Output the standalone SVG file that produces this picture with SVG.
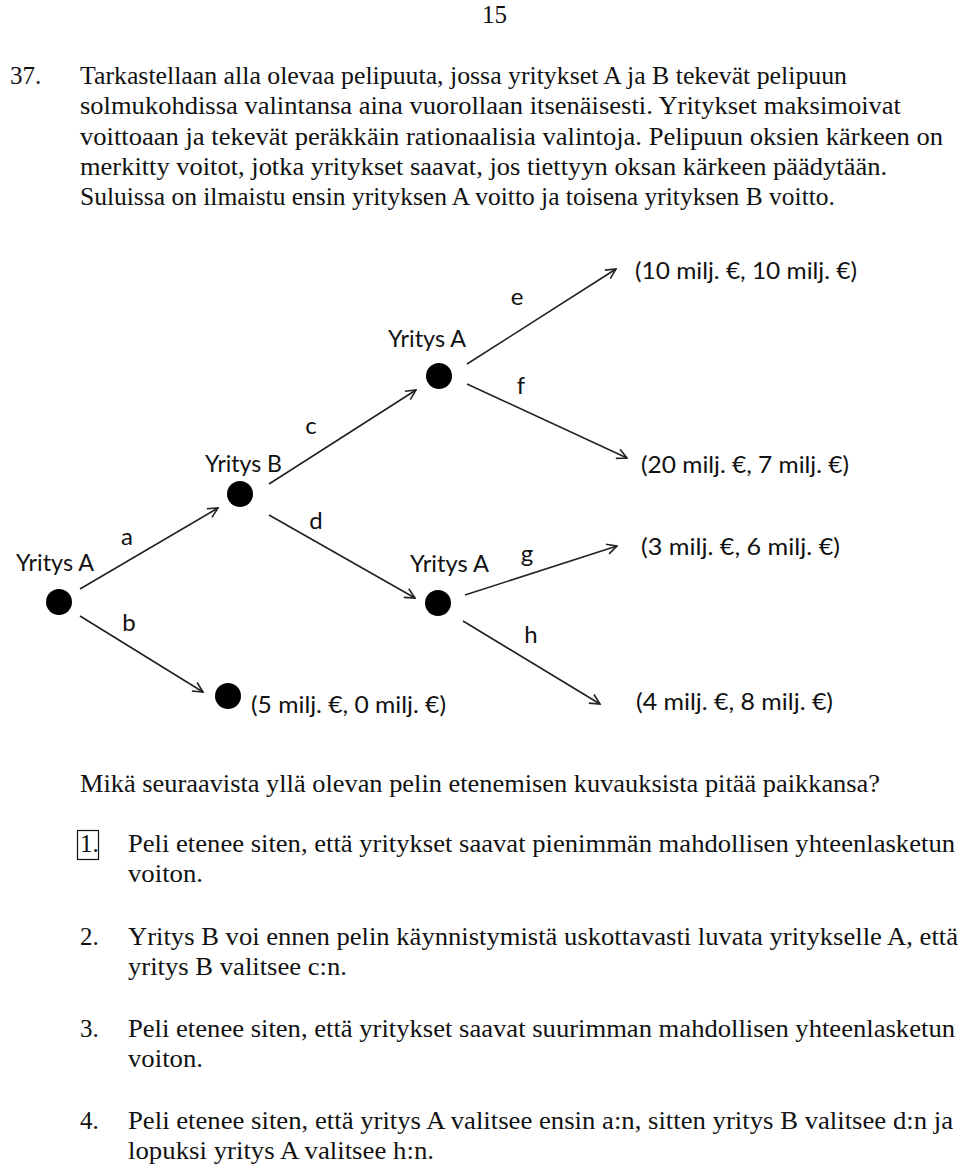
<svg xmlns="http://www.w3.org/2000/svg" width="960" height="1169" viewBox="0 0 960 1169">
<style>
.t{font-family:"Liberation Serif","Times New Roman",serif;font-size:25px;fill:#111}
.s{font-family:Lato,"Open Sans","Liberation Sans",sans-serif;font-size:24px;fill:#111}
.e{stroke:#222;stroke-width:1.6;fill:none}
.n{fill:#000}
</style>
<defs>
<marker id="ah" viewBox="0 0 12 12" refX="11" refY="6" markerWidth="12" markerHeight="12" markerUnits="userSpaceOnUse" orient="auto">
<path d="M1,1 L11,6 L1,11" fill="none" stroke="#222" stroke-width="1.6"/>
</marker>
</defs>
<rect width="960" height="1169" fill="#fff"/>
<g id="header">
<text class="t" x="482" y="23">15</text>
<text class="t" x="10" y="84">37.</text>
<text class="t" x="80" y="84" textLength="767" lengthAdjust="spacingAndGlyphs">Tarkastellaan alla olevaa pelipuuta, jossa yritykset A ja B tekevät pelipuun</text>
<text class="t" x="80" y="114" textLength="821" lengthAdjust="spacingAndGlyphs">solmukohdissa valintansa aina vuorollaan itsenäisesti. Yritykset maksimoivat</text>
<text class="t" x="80" y="145" textLength="863" lengthAdjust="spacingAndGlyphs">voittoaan ja tekevät peräkkäin rationaalisia valintoja. Pelipuun oksien kärkeen on</text>
<text class="t" x="80" y="175" textLength="807" lengthAdjust="spacingAndGlyphs">merkitty voitot, jotka yritykset saavat, jos tiettyyn oksan kärkeen päädytään.</text>
<text class="t" x="80" y="205" textLength="755" lengthAdjust="spacingAndGlyphs">Suluissa on ilmaistu ensin yrityksen A voitto ja toisena yrityksen B voitto.</text>
</g>
<g id="connectors">
<line class="e" x1="80" y1="589" x2="218" y2="508" marker-end="url(#ah)"/>
<line class="e" x1="80" y1="616" x2="203" y2="692" marker-end="url(#ah)"/>
<line class="e" x1="269" y1="484" x2="416" y2="390" marker-end="url(#ah)"/>
<line class="e" x1="269" y1="515" x2="415" y2="598" marker-end="url(#ah)"/>
<line class="e" x1="467" y1="364" x2="616" y2="269" marker-end="url(#ah)"/>
<line class="e" x1="467" y1="384" x2="627" y2="458" marker-end="url(#ah)"/>
<line class="e" x1="465" y1="595" x2="617" y2="546" marker-end="url(#ah)"/>
<line class="e" x1="463" y1="621" x2="600" y2="704" marker-end="url(#ah)"/>
<text class="s" x="127" y="545" text-anchor="middle">a</text>
<text class="s" x="129" y="631" text-anchor="middle">b</text>
<text class="s" x="311" y="434" text-anchor="middle">c</text>
<text class="s" x="316" y="529" text-anchor="middle">d</text>
<text class="s" x="517" y="305" text-anchor="middle">e</text>
<text class="s" x="521" y="394" text-anchor="middle">f</text>
<text class="s" x="527" y="562" text-anchor="middle">g</text>
<text class="s" x="531" y="643" text-anchor="middle">h</text>
</g>
<g id="node-root">
<circle class="n" cx="59" cy="602" r="13"/>
<text class="s" x="16" y="571" textLength="78" lengthAdjust="spacingAndGlyphs">Yritys A</text>
</g>
<g id="node-B">
<circle class="n" cx="240" cy="494" r="13"/>
<text class="s" x="205" y="472" textLength="77" lengthAdjust="spacingAndGlyphs">Yritys B</text>
</g>
<g id="node-A-top">
<circle class="n" cx="439" cy="376" r="13"/>
<text class="s" x="388" y="347" textLength="78" lengthAdjust="spacingAndGlyphs">Yritys A</text>
</g>
<g id="node-A-low">
<circle class="n" cx="438" cy="603" r="13"/>
<text class="s" x="410" y="572" textLength="79" lengthAdjust="spacingAndGlyphs">Yritys A</text>
</g>
<g id="node-b-end">
<circle class="n" cx="228" cy="696" r="13"/>
<text class="s" x="251" y="713" textLength="195" lengthAdjust="spacingAndGlyphs">(5 milj. €, 0 milj. €)</text>
</g>
<g id="payoff-e"><text class="s" x="635" y="279" textLength="222" lengthAdjust="spacingAndGlyphs">(10 milj. €, 10 milj. €)</text></g>
<g id="payoff-f"><text class="s" x="641" y="473" textLength="208" lengthAdjust="spacingAndGlyphs">(20 milj. €, 7 milj. €)</text></g>
<g id="payoff-g"><text class="s" x="641" y="555" textLength="199" lengthAdjust="spacingAndGlyphs">(3 milj. €, 6 milj. €)</text></g>
<g id="payoff-h"><text class="s" x="636" y="710" textLength="197" lengthAdjust="spacingAndGlyphs">(4 milj. €, 8 milj. €)</text></g>
<g id="question">
<text class="t" x="80" y="792" textLength="800" lengthAdjust="spacingAndGlyphs">Mikä seuraavista yllä olevan pelin etenemisen kuvauksista pitää paikkansa?</text>
<rect x="77.5" y="830.5" width="21" height="29" fill="none" stroke="#111" stroke-width="1.2"/>
<text class="t" x="80" y="852">1.</text>
<text class="t" x="128" y="852" textLength="827" lengthAdjust="spacingAndGlyphs">Peli etenee siten, että yritykset saavat pienimmän mahdollisen yhteenlasketun</text>
<text class="t" x="128" y="882" textLength="75" lengthAdjust="spacingAndGlyphs">voiton.</text>
<text class="t" x="80" y="945">2.</text>
<text class="t" x="128" y="945" textLength="830" lengthAdjust="spacingAndGlyphs">Yritys B voi ennen pelin käynnistymistä uskottavasti luvata yritykselle A, että</text>
<text class="t" x="128" y="975" textLength="219" lengthAdjust="spacingAndGlyphs">yritys B valitsee c:n.</text>
<text class="t" x="80" y="1037">3.</text>
<text class="t" x="128" y="1037" textLength="827" lengthAdjust="spacingAndGlyphs">Peli etenee siten, että yritykset saavat suurimman mahdollisen yhteenlasketun</text>
<text class="t" x="128" y="1067" textLength="75" lengthAdjust="spacingAndGlyphs">voiton.</text>
<text class="t" x="80" y="1129">4.</text>
<text class="t" x="128" y="1129" textLength="825" lengthAdjust="spacingAndGlyphs">Peli etenee siten, että yritys A valitsee ensin a:n, sitten yritys B valitsee d:n ja</text>
<text class="t" x="128" y="1159" textLength="306" lengthAdjust="spacingAndGlyphs">lopuksi yritys A valitsee h:n.</text>
</g>
</svg>
